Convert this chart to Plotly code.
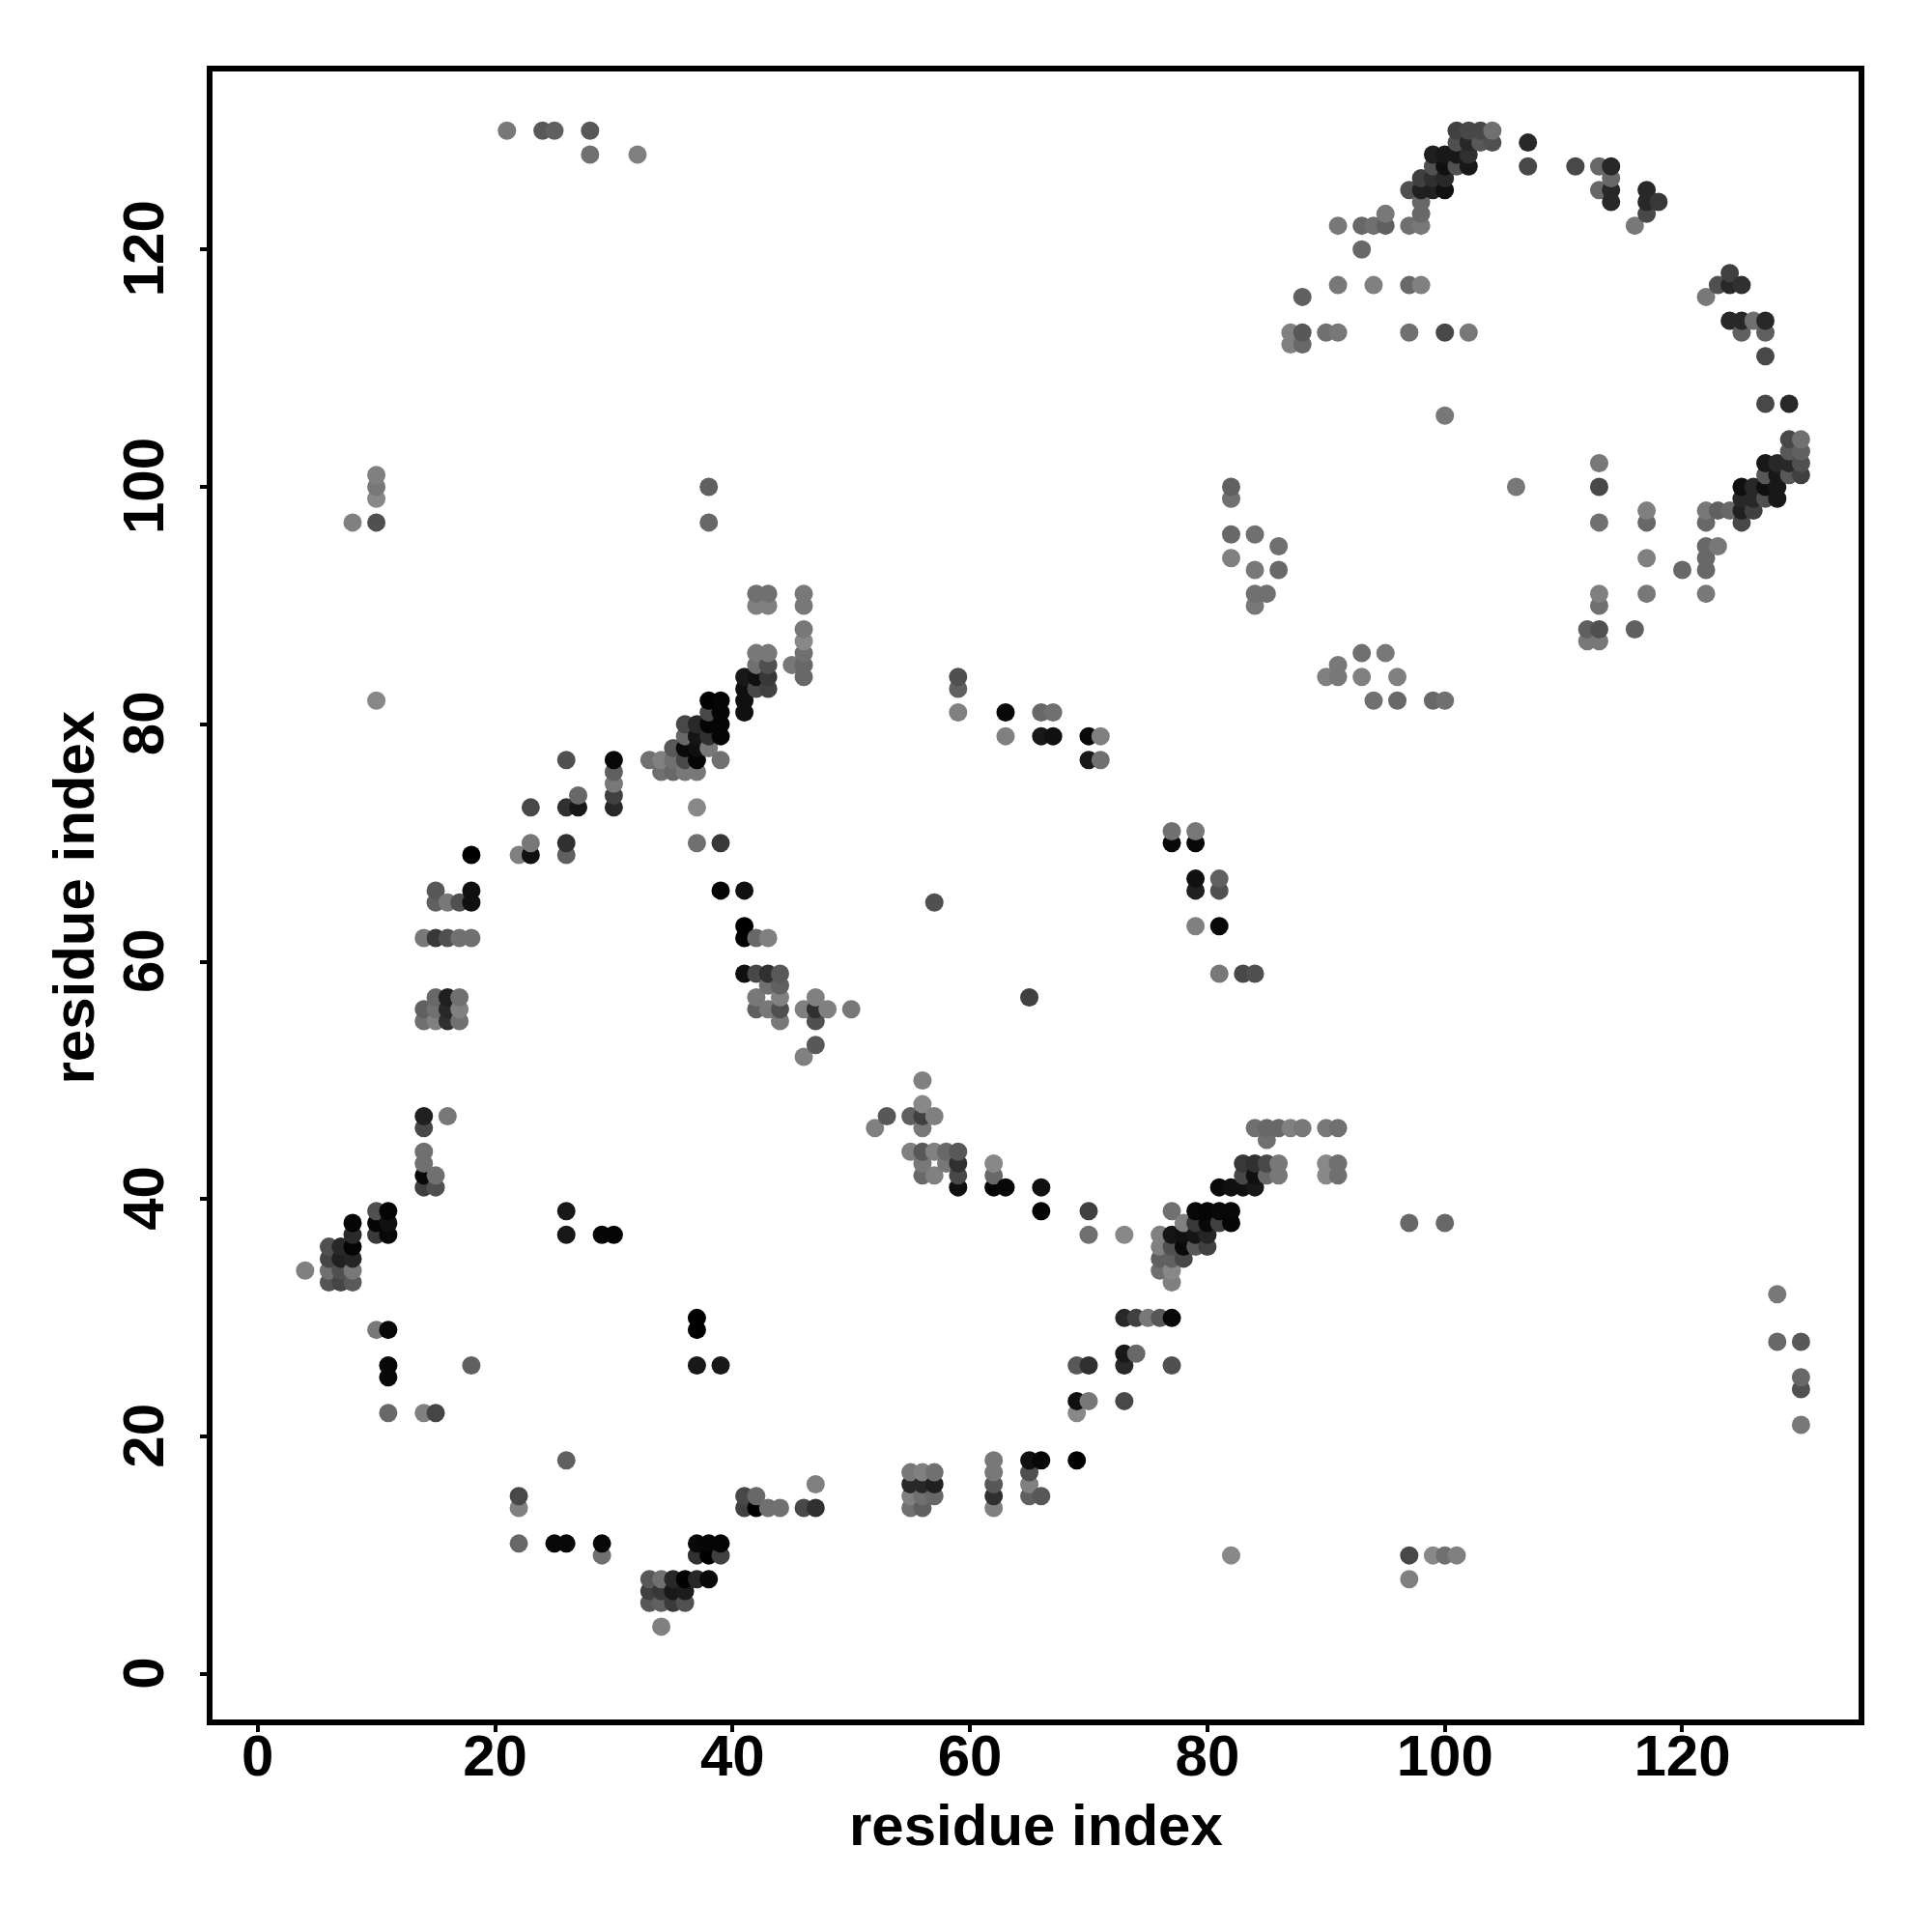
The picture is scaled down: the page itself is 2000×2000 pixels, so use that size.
import plotly.graph_objects as go

rows_y = [130,129,128,127,126,125,124,123,122,120,118,117,116,114,113,112,111,107,106,104,103,102,101,100,99,98,97,96,95,94,93,91,90,88,87,86,85,84,83,82,81,80,79,78,77,76,75,74,73,71,70,69,67,66,65,63,62,59,58,57,56,55,53,52,50,48,47,46,45,44,43,42,41,39,38,37,36,35,34,33,32,30,29,28,27,26,25,24,23,22,21,18,17,16,15,14,11,10,8,7,6,4]

rows_x = [
[21,24,25,28,101,102,103,104],[101,102,103,104,107],[28,32,99,100,101,102],[99,100,101,102,107,111,113,114],
[98,99,100,114],[97,98,99,100,113,114,117],[98,114,117,118],[95,98,117],[91,93,94,95,97,98,116],[93],[124],
[91,94,97,98,123,124,125],[88,122],[124,125,126,127],[87,88,90,91,97,100,102,125,127],[87,88],[127],[127,129],[100],
[129,130],[129,130],[113,127,128,129,130],[10,127,128,129,130],[10,38,82,106,113,125,126,127,128],[10,82,125,126,127,128],
[117,122,123,124,125,126],[8,10,38,113,117,122,125],[82,84],[86,122,123],[82,117,122],[84,86,120,122],
[42,43,46,84,85,113,117,122],[42,43,46,84,113],[46,112,113,116],[46,112,113],[42,43,46,93,95],[42,43,45,46,91],
[41,42,43,46,59,90,91,93,96],[41,42,43,59],[10,38,39,41,94,96,99,100],[38,39,41,59,63,66,67],[36,37,38,39],
[36,37,38,39,63,66,67,70,71],[35,36,37,38],[26,30,33,34,35,36,37,39,70,71],[30,34,35,36,37],[30],[27,30],[23,26,27,30,37],
[77,79],[23,26,37,39,77,79],[18,22,23,26],[79,81],[15,18,39,41,79,81],[15,16,17,18,57],[41,79,81],
[14,15,16,17,18,41,42,43],[41,42,43,44,81,83,84],[43,44],[15,16,17,42,44,47,65],[14,15,16,17,42,43,44,46,47,48,50],
[14,15,16,17,44,47],[47],[46],[56],[56],[14,16,53,55,56,57],[14,52,56,84,85,86,87,88,90,91],[85],[14,55,56,57,58,59],
[14,56,58,59,62,83,84,85,86,90,91],[14,15,56,57,59,62,83,84,85,86,90,91],[14,15,59,62,63,66,81,82,83,84],
[10,11,26,66,70,77,79,80,81,82],[8,10,11,78,79,80,81,82,97,100],[8,10,11,26,29,30,70,73,76,77,78,79,80],
[6,7,8,76,77,78,79,80],[6,7,8,76,77,78],[4,6,7,8,76,77],[6,7,8,77],[128],[37,73,74,75,76,77],[10,11,37],[128,130],[73,74],
[11,18,37,39,69,70,73,77],[11,130],[130],[69,70,73],[11,14,15,69],[130],[26,62,65,66,69],[55,56,57,62,65],[47,55,56,57,62,65],
[22,41,42,55,56,57,62,65,66],[22,41,42,43,44,46,47,55,56,62],[22,25,26,29,37,38,39],[29,37,38,39,82,97,99,100,101],
[33,34,35,36,37,38,97],[33,34,35,36],[33,34,35,36],[34],
]

rows_gray = [
[0x78,0x58,0x60,0x58,0x40,0x48,0x48,0x70],[0x50,0x28,0x58,0x50,0x28],[0x70,0x80,0x20,0x18,0x18,0x30],[0x50,0x10,0x50,0x18,0x48,0x48,0x68,0x28],
[0x40,0x30,0x28,0x68],[0x50,0x20,0x20,0x10,0x68,0x28,0x28],[0x68,0x28,0x28,0x38],[0x78,0x68,0x48],[0x78,0x68,0x70,0x60,0x70,0x78,0x78],[0x68],[0x40],
[0x78,0x80,0x68,0x80,0x50,0x28,0x30],[0x60,0x78],[0x28,0x28,0x70,0x28],[0x80,0x58,0x70,0x78,0x70,0x48,0x78,0x60,0x60],[0x80,0x68],[0x48],[0x48,0x28],[0x78],
[0x48,0x70],[0x58,0x60],[0x78,0x18,0x28,0x28,0x50],[0x80,0x58,0x18,0x58,0x40],[0x78,0x60,0x60,0x78,0x48,0x10,0x28,0x10,0x18],[0x88,0x70,0x28,0x28,0x50,0x18],
[0x80,0x78,0x60,0x68,0x20,0x40],[0x80,0x50,0x68,0x70,0x68,0x68,0x48],[0x68,0x70],[0x70,0x68,0x78],[0x80,0x80,0x68],[0x78,0x68,0x68,0x68],
[0x70,0x70,0x78,0x70,0x70,0x80,0x78,0x78],[0x80,0x80,0x78,0x78,0x70],[0x78,0x60,0x50,0x60],[0x88,0x78,0x78],[0x78,0x78,0x70,0x70,0x78],[0x70,0x50,0x78,0x68,0x78],
[0x18,0x10,0x38,0x68,0x50,0x80,0x78,0x80,0x80],[0x10,0x48,0x40,0x60],[0x88,0x02,0x05,0x10,0x70,0x68,0x68,0x70],[0x48,0x05,0x10,0x80,0x08,0x68,0x70],[0x48,0x28,0x05,0x05],
[0x68,0x15,0x30,0x05,0x80,0x18,0x10,0x08,0x80],[0x58,0x0a,0x10,0x78],[0x50,0x08,0x70,0x80,0x70,0x48,0x05,0x70,0x18,0x70],[0x60,0x70,0x68,0x78,0x78],[0x78],[0x68,0x40],[0x48,0x30,0x18,0x28,0x88],
[0x70,0x78],[0x78,0x30,0x70,0x38,0x08,0x08],[0x00,0x80,0x10,0x60],[0x10,0x60],[0x58,0x10,0x05,0x10,0x20,0x50],[0x60,0x78,0x50,0x10,0x50],[0x00,0x80,0x08],
[0x78,0x38,0x50,0x70,0x70,0x00,0x68,0x80],[0x10,0x48,0x30,0x58,0x78,0x48,0x50],[0x70,0x60],[0x68,0x20,0x70,0x78,0x80,0x80,0x40],[0x60,0x70,0x28,0x80,0x60,0x78,0x50,0x80,0x30,0x80,0x78],
[0x70,0x80,0x30,0x70,0x78,0x50],[0x58],[0x80],[0x80],[0x88],[0x20,0x78,0x58,0x60,0x40,0x80],[0x48,0x80,0x78,0x70,0x68,0x68,0x80,0x78,0x78,0x70],[0x70],[0x70,0x80,0x58,0x80,0x68,0x58],
[0x70,0x78,0x78,0x30,0x88,0x38,0x30,0x48,0x78,0x88,0x70],[0x08,0x70,0x68,0x80,0x48,0x68,0x48,0x10,0x68,0x78,0x88,0x70],[0x40,0x50,0x10,0x05,0x08,0x10,0x0a,0x10,0x10,0x18],
[0x50,0x05,0x18,0x05,0x40,0x70,0x08,0x05,0x08,0x08],[0x05,0x05,0x10,0x80,0x38,0x08,0x40,0x05,0x68,0x68],[0x2a,0x3a,0x08,0x18,0x05,0x05,0x70,0x88,0x80,0x15,0x10,0x15,0x25],
[0x50,0x28,0x05,0x80,0x50,0x0a,0x58,0x40],[0x45,0x20,0x25,0x60,0x60,0x48],[0x80,0x70,0x50,0x78,0x70,0x88],[0x55,0x45,0x5a,0x80],[0x78],[0x00,0x28,0x40,0x78,0x58,0x08],[0x78,0x08,0x00],[0x68,0x58],[0x18,0x68],
[0x08,0x60,0x18,0x18,0x58,0x30,0x28,0x50],[0x08,0x68],[0x50],[0x10,0x78,0x48],[0x68,0x80,0x45,0x88],[0x78],[0x60,0x78,0x10,0x08,0x00],[0x78,0x80,0x70,0x78,0x50],[0x80,0x28,0x28,0x20,0x58,0x80],
[0x48,0x48,0x68,0x80,0x70,0x68,0x30,0x60,0x58],[0x80,0x40,0x02,0x70,0x70,0x48,0x30,0x70,0x60,0x80],[0x68,0x08,0x08,0x08,0x08,0x05,0x05],[0x70,0x30,0x00,0x40,0x88,0x48,0x88,0x70,0x80],
[0x58,0x70,0x28,0x02,0x28,0x0a,0x80],[0x40,0x38,0x18,0x1c],[0x58,0x60,0x3a,0x50],[0x80],
]

tick_values = [0, 20, 40, 60, 80, 100, 120]
axis_label = "residue index"

pts = []
for y, xs, gs in zip(rows_y, rows_x, rows_gray):
    for x, g in zip(xs, gs):
        pts.append((x, y, g))
pts.sort(key=lambda p: (p[0], p[1]))

fig = go.Figure(go.Scatter(
    x=[p[0] for p in pts],
    y=[p[1] for p in pts],
    mode="markers",
    marker=dict(size=19, color=[f"rgb({p[2]},{p[2]},{p[2]})" for p in pts], line=dict(width=0)),
    showlegend=False,
    cliponaxis=False,
))

tick_font = dict(family="Liberation Sans", size=60, color="black", weight=700)
title_font = dict(family="Liberation Sans", size=60, color="black", weight=700)
axis_common = dict(
    showgrid=False, zeroline=False, showline=True, mirror=True, linewidth=6, linecolor="black",
    ticks="outside", ticklen=7, tickwidth=4, tickcolor="black",
    tickmode="array", tickvals=tick_values, ticktext=[str(t) for t in tick_values],
    tickfont=tick_font,
)
fig.update_layout(
    width=2000, height=2000, autosize=False,
    margin=dict(l=212, r=84, t=66, b=228, pad=0),
    paper_bgcolor="white", plot_bgcolor="white",
    xaxis=dict(range=[-3.80, 134.85], ticklabelstandoff=-27, **axis_common),
    yaxis=dict(range=[-3.82, 134.99], tickangle=-90, ticklabelstandoff=14, ticklabelshift=8, **axis_common),
    annotations=[
        dict(text=axis_label, xref="paper", yref="paper", x=0.5, y=-0.0639, xanchor="center", yanchor="middle",
             showarrow=False, font=title_font),
        dict(text=axis_label, xref="paper", yref="paper", x=-0.0842, y=0.4988, xanchor="center", yanchor="middle",
             showarrow=False, textangle=-90, font=title_font),
    ],
)
fig.write_html("out.html")
